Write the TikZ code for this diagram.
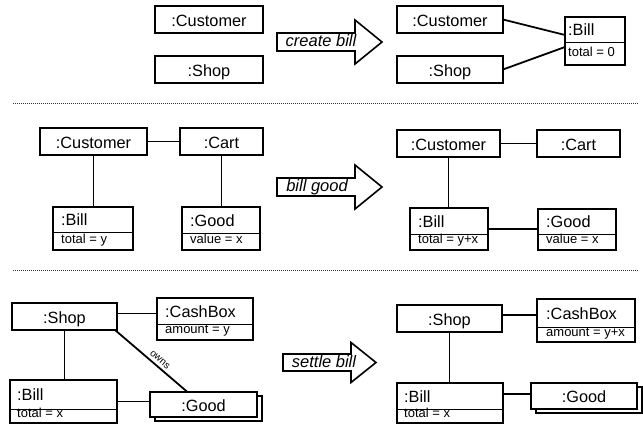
\documentclass[tikz,border=0pt]{standalone}
\usepackage{fontspec}
\setmainfont{Liberation Sans}
\usetikzlibrary{calc}

\tikzset{
  objbox/.style={draw, line width=1.8pt, fill=white, inner sep=0pt, outer sep=0pt,
    text height=14pt, text depth=0pt, font=\fontsize{16.3}{18}\selectfont},
  divline/.style={line width=1pt},
  link/.style={line width=1.8pt},
  titletext/.style={anchor=base west, inner sep=0pt, font=\fontsize{16.3}{18}\selectfont},
  attrtext/.style={anchor=base west, inner sep=0pt, font=\fontsize{13}{14}\selectfont},
  steplabel/.style={anchor=base, inner sep=0pt, font=\fontsize{16.5}{18}\selectfont\itshape},
  steparrow/.style={draw, line width=1.6pt, fill=white, line join=miter},
  separator/.style={line width=1pt, dash pattern=on 1pt off 1pt, black!80},
  rolelabel/.style={font=\fontsize{10}{11}\selectfont, inner sep=3pt},
}

% object with one compartment: name, x1, y1, x2, y2, text
\newcommand\simplebox[6]{%
  \node[objbox, anchor=north west, minimum width={#4-#2}, minimum height={#5-#3}] (#1) at (#2,#3) {#6};}

% object shown as a multi-object stack
\newcommand\stackbox[6]{%
  \draw[line width=1.8pt, fill=white] ({#2+5},{#3+4}) rectangle ({#4+5},{#5+4});
  \simplebox{#1}{#2}{#3}{#4}{#5}{#6}}

% object with name and attribute compartments:
% name, inset, x1, y1, x2, y2, divider y, title, attribute
\newcommand\classbox[9]{%
  \node[objbox, anchor=north west, minimum width={#5-#3}, minimum height={#6-#4}] (#1) at (#3,#4) {};
  \draw[divline] (#3,#7) -- (#5,#7);
  \node[titletext] (#1-t) at ({#3+#2},{(#4+#7)/2+6}) {#8};
  \node[attrtext] (#1-a) at ({#3+#2},{#7+0.6*(#6-#7)}) {#9};}

% transformation arrow: name, x0, head base x, tip x, centre y, body half, head half, label x, label
\newcommand\transition[9]{%
  \draw[steparrow] (#2,{#5-#6}) -- (#3,{#5-#6}) -- (#3,{#5-#7}) -- (#4,#5)
    -- (#3,{#5+#7}) -- (#3,{#5+#6}) -- (#2,{#5+#6}) -- cycle;
  \node[steplabel] (#1) at (#8,{#5+4.7}) {#9};}

\begin{document}
\begin{tikzpicture}[x=1pt,y=-1pt]
\useasboundingbox (0,0) rectangle (643,427);

% ---------- create bill ----------
\simplebox{cusA}{155}{6}{263}{33}{:Customer}
\simplebox{shopA}{155}{56}{263}{83}{:Shop}
\transition{createbill}{277}{355}{382}{42}{9}{22}{321}{create bill}
\simplebox{cusB}{397}{6}{503}{33}{:Customer}
\simplebox{shopB}{397}{56}{503}{83}{:Shop}
\classbox{billB}{3}{565}{17}{625}{65}{43}{:Bill}{total = 0}
\draw[link] (cusB.east) -- ([yshift=6pt]billB.west);
\draw[link] (shopB.east) -- ([yshift=-6pt]billB.west);

\draw[separator] (13,104) -- (638,104);

% ---------- bill good ----------
\simplebox{cusC}{40}{128}{147}{155}{:Customer}
\simplebox{cartC}{180}{128}{263}{155}{:Cart}
\classbox{billC}{8}{53}{207}{133}{250}{233}{:Bill}{total = y}
\classbox{goodC}{8}{182}{207}{260}{250}{234}{:Good}{value = x}
\draw[link] (cusC.east) -- (cartC.west);
\draw[link] (cusC.south) -- (cusC.south |- billC.north);
\draw[link] (cartC.south) -- (cartC.south |- goodC.north);

\transition{billgood}{277}{355}{382}{187}{9}{22}{317}{bill good}

\simplebox{cusD}{397}{130}{500}{157}{:Customer}
\simplebox{cartD}{537}{130}{620}{157}{:Cart}
\classbox{billD}{8}{410}{208}{488}{250}{235}{:Bill}{total = y+x}
\classbox{goodD}{8}{538}{209}{616}{250}{235}{:Good}{value = x}
\draw[link] (cusD.east) -- (cartD.west);
\draw[link] (cusD.south) -- (cusD.south |- billD.north);
\draw[link] (billD.east) -- (billD.east -| goodD.west);

\draw[separator] (13,271) -- (638,271);

% ---------- settle bill ----------
\simplebox{shopE}{12}{303}{117}{330}{:Shop}
\classbox{cashE}{8}{157}{298}{253}{340}{325}{:CashBox}{amount = y}
\classbox{billE}{7}{10}{380}{117}{423}{410}{:Bill}{total = x}
\stackbox{goodE}{150}{392}{257}{417}{:Good}
\draw[link] ([yshift=3pt]shopE.east) -- ([yshift=3pt]shopE.east -| cashE.west);
\draw[link] (shopE.south) -- (shopE.south |- billE.north);
\draw[link] (billE.east) -- (billE.east -| goodE.west);
\draw[link] ([xshift=-2pt]shopE.south east)
  -- node[rolelabel, sloped, above, pos=0.56] (ownsE) {owns}
  ($(goodE.north west)!0.35!(goodE.north east)$);

\transition{settlebill}{283}{351}{376}{362.5}{8.5}{20}{324}{settle bill}

\simplebox{shopF}{397}{305}{502}{332}{:Shop}
\classbox{cashF}{9}{537}{299}{635}{342}{328}{:CashBox}{amount = y+x}
\classbox{billF}{7}{397}{383}{503}{423}{410}{:Bill}{total = x}
\stackbox{goodF}{531}{383}{637}{409}{:Good}
\draw[link] ([yshift=3.5pt]shopF.east) -- ([yshift=3.5pt]shopF.east -| cashF.west);
\draw[link] (shopF.south) -- (shopF.south |- billF.north);
\draw[link] ([yshift=2pt]goodF.west) -- ([yshift=2pt]goodF.west -| billF.east);
\end{tikzpicture}
\end{document}
